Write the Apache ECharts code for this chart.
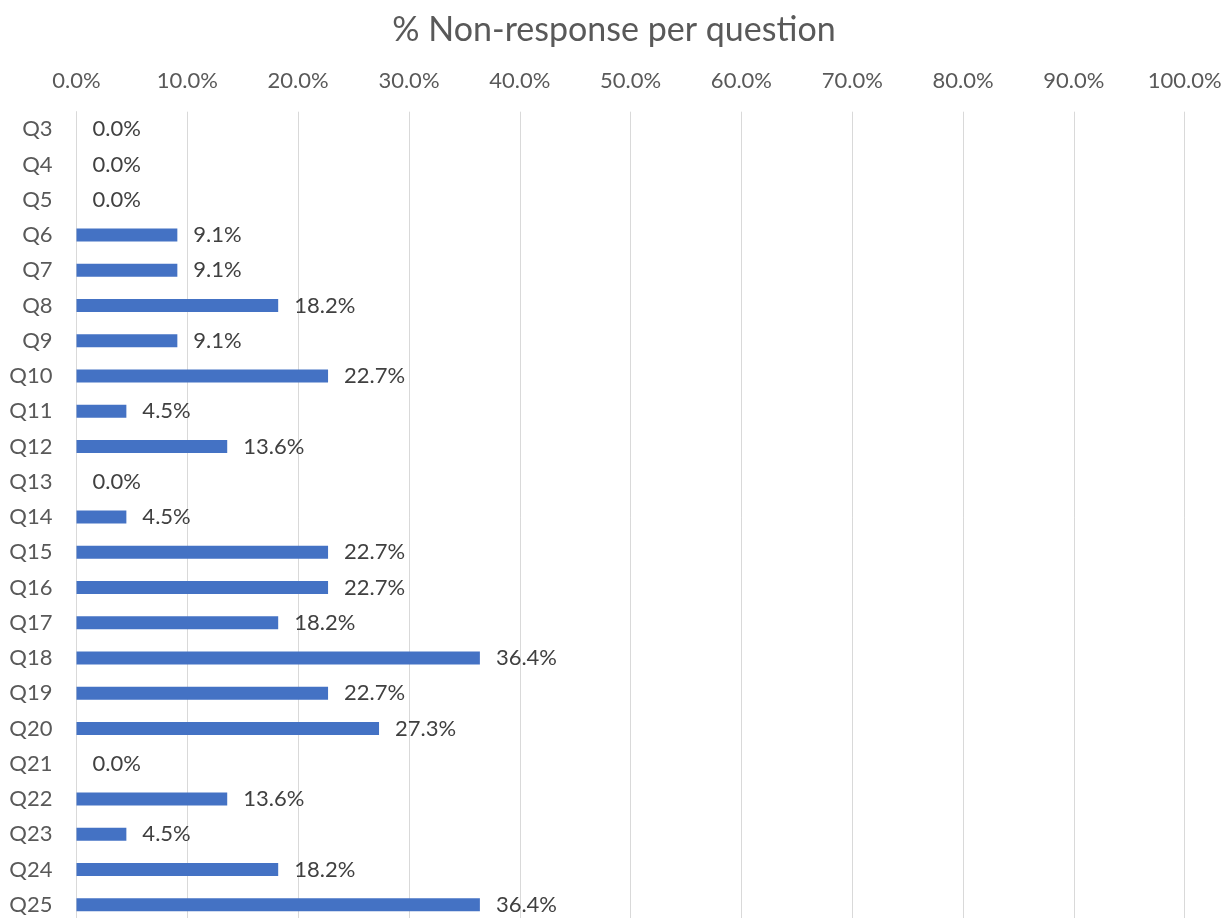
<!DOCTYPE html>
<html>
<head>
<meta charset="utf-8">
<title>% Non-response per question</title>
<script src="https://cdn.jsdelivr.net/npm/echarts@6/dist/echarts.min.js"></script>
<style>
  html, body { margin: 0; padding: 0; background: #ffffff; overflow: hidden; }
  /* canvas is a few pixels taller than the window, so the last row sits at the bottom edge */
  #chart { width: 1228px; height: 923px; }
</style>
</head>
<body>
<div id="chart"></div>
<script>
// Questions, listed top to bottom
const questions = ['Q3', 'Q4', 'Q5', 'Q6', 'Q7', 'Q8', 'Q9', 'Q10', 'Q11', 'Q12', 'Q13', 'Q14',
  'Q15', 'Q16', 'Q17', 'Q18', 'Q19', 'Q20', 'Q21', 'Q22', 'Q23', 'Q24', 'Q25'];

// Share of respondents who left each question blank (%)
const nonResponse = [0.0, 0.0, 0.0, 9.1, 9.1, 18.2, 9.1, 22.7, 4.5, 13.6, 0.0, 4.5,
  22.7, 22.7, 18.2, 36.4, 22.7, 27.3, 0.0, 13.6, 4.5, 18.2, 36.4];

// Percentage axis range
const axisMin = 0;
const axisMax = 100;
const axisStep = 10;

const FONT = 'Lato, "Open Sans", sans-serif';
const pct = v => Number(v).toFixed(1) + '%';

const chart = echarts.init(document.getElementById('chart'), null, { renderer: 'canvas' });

chart.setOption({
  backgroundColor: '#ffffff',
  animation: false,
  title: {
    text: '% Non-response per question',
    left: 'center',
    top: 8,
    textStyle: {
      fontFamily: FONT,
      fontSize: 34,
      fontWeight: 'normal',
      color: '#595959'
    }
  },
  grid: {
    left: 76.5,
    right: 43.3,
    top: 111.7,
    bottom: 0.5,
    containLabel: false
  },
  xAxis: {
    type: 'value',
    position: 'top',
    min: axisMin,
    max: axisMax,
    interval: axisStep,
    axisLine: { show: false },
    axisTick: { show: false },
    axisLabel: {
      margin: 20,
      fontFamily: FONT,
      fontSize: 22,
      color: '#595959',
      formatter: pct
    },
    splitLine: { show: true, lineStyle: { color: '#d9d9d9', width: 1 } }
  },
  yAxis: {
    type: 'category',
    inverse: true,
    data: questions,
    axisLine: { show: true, lineStyle: { color: '#d9d9d9', width: 1 } },
    axisTick: { show: false },
    axisLabel: {
      margin: 24,
      fontFamily: FONT,
      fontSize: 22,
      color: '#595959'
    }
  },
  series: [{
    type: 'bar',
    data: nonResponse,
    barWidth: 13,
    itemStyle: { color: '#4472c4' },
    label: {
      show: true,
      position: 'right',
      distance: 16,
      fontFamily: FONT,
      fontSize: 22,
      color: '#404040',
      formatter: p => pct(p.value)
    }
  }]
});
</script>
</body>
</html>
